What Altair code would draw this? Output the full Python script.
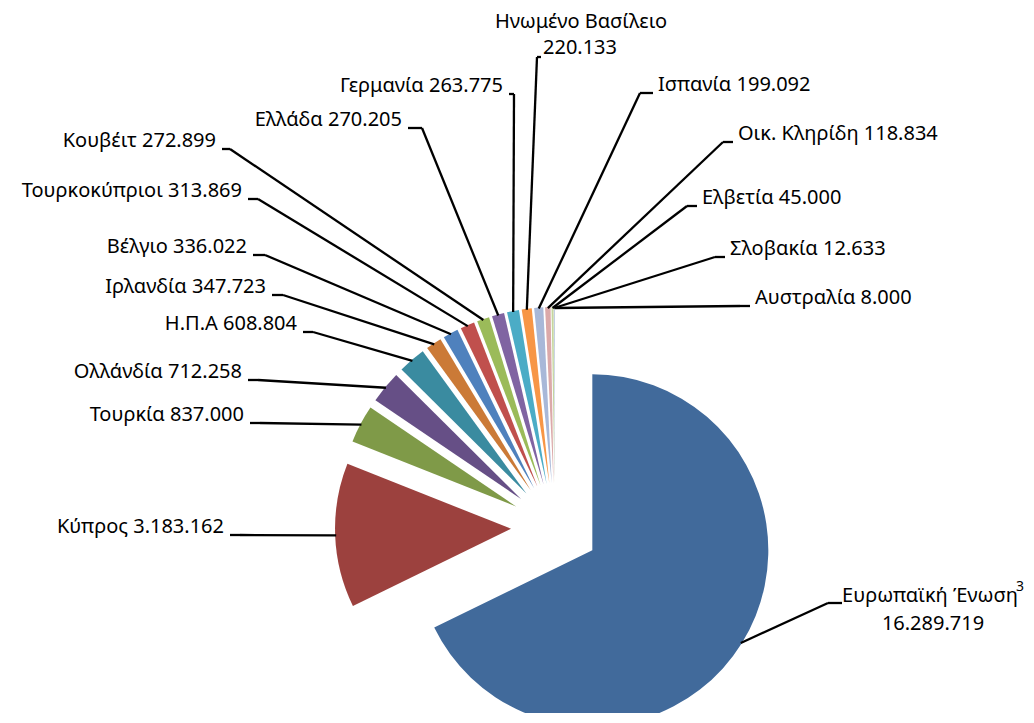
import altair as alt
import pandas as pd

# ---------------- data ----------------
countries = ["Ευρωπαϊκή Ένωση", "Κύπρος", "Τουρκία", "Ολλάνδία", "Η.Π.Α", "Ιρλανδία",
             "Βέλγιο", "Τουρκοκύπριοι", "Κουβέιτ", "Ελλάδα", "Γερμανία",
             "Ηνωμένο Βασίλειο", "Ισπανία", "Οικ. Κληρίδη", "Ελβετία", "Σλοβακία",
             "Αυστραλία"]
values = [16289719, 3183162, 837000, 712258, 608804, 347723, 336022, 313869,
          272899, 270205, 263775, 220133, 199092, 118834, 45000, 12633, 8000]

colors = ["#416A9B", "#9C413E", "#7F9A48", "#664F86", "#3A8BA0", "#CB7A37",
          "#4F81BD", "#C0504D", "#9BBB59", "#8064A2", "#4BACC6", "#F79646",
          "#A8B8D8", "#DBA9A9", "#C5D69E", "#B3A2C7", "#93CDDD"]

# ---------------- layout (page pixels) ----------------
OFF = 8
CX, CY = 555 - OFF, 527 - OFF     # pie centre
R = 176                           # pie radius
E = 44                            # explosion distance

# leader line knee points and tick ends for each label
KNEE_X = [828, 240, 260, 258, 313, 283, 265, 258, 230, 422, 514, 537, 640, 723, 687, 715, 740]
KNEE_Y = [603, 535, 423, 380, 332, 295, 255, 199, 149, 128, 94, 57, 93, 142, 206, 257, 306]
TICK_X = [842, 230, 250, 248, 303, 272, 253, 248, 222, 408, 509, 541, 653, 733, 697, 725, 750]
SIDE = ["C", "L", "L", "L", "L", "L", "L", "L", "L", "L", "L", "C", "R", "R", "R", "R", "R"]

FONT = "Noto Sans"
FS = 20


def fmt(v):
    return f"{v:,}".replace(",", ".")


df = pd.DataFrame({
    "order": list(range(len(values))),
    "name": countries,
    "value": values,
    "kx": [k - OFF for k in KNEE_X],
    "ky": [k - OFF for k in KNEE_Y],
    "tx": [k - OFF for k in TICK_X],
})

# text rows
rows = []
for i, (n, v) in enumerate(zip(countries, values)):
    y = KNEE_Y[i] - 8 - OFF
    if SIDE[i] == "L":
        rows.append({"t": f"{n} {fmt(v)}", "x": TICK_X[i] - 6 - OFF, "y": y, "a": "right"})
    elif SIDE[i] == "R":
        rows.append({"t": f"{n} {fmt(v)}", "x": TICK_X[i] + 5 - OFF, "y": y, "a": "left"})
# multi-line labels
rows.append({"t": countries[0], "x": 930 - OFF, "y": 596 - OFF, "a": "center"})
rows.append({"t": fmt(values[0]), "x": 933 - OFF, "y": 624 - OFF, "a": "center"})
rows.append({"t": countries[11], "x": 581 - OFF, "y": 22 - OFF, "a": "center"})
rows.append({"t": fmt(values[11]), "x": 580 - OFF, "y": 48 - OFF, "a": "center"})
tdf = pd.DataFrame(rows)
sup = pd.DataFrame({"t": ["3"], "x": [1016 - OFF], "y": [587 - OFF]})

# ---------------- chart ----------------
base = alt.Chart(df).transform_window(
    cum="sum(value)", sort=[alt.SortField("order")], frame=[None, 0]
).transform_joinaggregate(
    total="sum(value)"
).transform_calculate(
    t0="2*PI*(datum.cum - datum.value)/datum.total",
    t1="2*PI*datum.cum/datum.total",
).transform_calculate(
    mid="(datum.t0 + datum.t1)/2"
).transform_calculate(
    px=f"{CX} + {E}*sin(datum.mid)",
    py=f"{CY} - {E}*cos(datum.mid)",
    ax=f"{CX} + {E + R - 1}*sin(datum.mid)",
    ay=f"{CY} - {E + R - 1}*cos(datum.mid)",
)

arcs = base.mark_arc(radius=R).encode(
    theta=alt.Theta("t0:Q", scale=None),
    theta2="t1:Q",
    x=alt.X("px:Q", scale=None, stack=False),
    y=alt.Y("py:Q", scale=None, stack=False),
    color=alt.Color("name:N", scale=alt.Scale(domain=countries, range=colors), legend=None),
)

lead1 = base.mark_rule(color="black", strokeWidth=2.3).encode(
    x=alt.X("ax:Q", scale=None, stack=False),
    y=alt.Y("ay:Q", scale=None, stack=False),
    x2="kx:Q",
    y2="ky:Q",
)
lead2 = base.mark_rule(color="black", strokeWidth=2.3).encode(
    x=alt.X("kx:Q", scale=None, stack=False),
    y=alt.Y("ky:Q", scale=None, stack=False),
    x2="tx:Q",
    y2="ky:Q",
)


def text_layer(align):
    return alt.Chart(tdf).transform_filter(
        alt.datum.a == align
    ).mark_text(align=align, baseline="middle", font=FONT, fontSize=FS, color="black").encode(
        x=alt.X("x:Q", scale=None),
        y=alt.Y("y:Q", scale=None),
        text="t:N",
    )


sup_layer = alt.Chart(sup).mark_text(align="left", baseline="middle", font=FONT,
                                     fontSize=14, color="black").encode(
    x=alt.X("x:Q", scale=None),
    y=alt.Y("y:Q", scale=None),
    text="t:N",
)

chart = alt.layer(
    arcs, lead1, lead2, text_layer("left"), text_layer("right"), text_layer("center"), sup_layer
).properties(
    width=1018, height=705, padding=0, autosize="none", background="white"
).configure_view(stroke=None)

chart.save("out.html", embed_options={"renderer": "svg", "actions": False})
